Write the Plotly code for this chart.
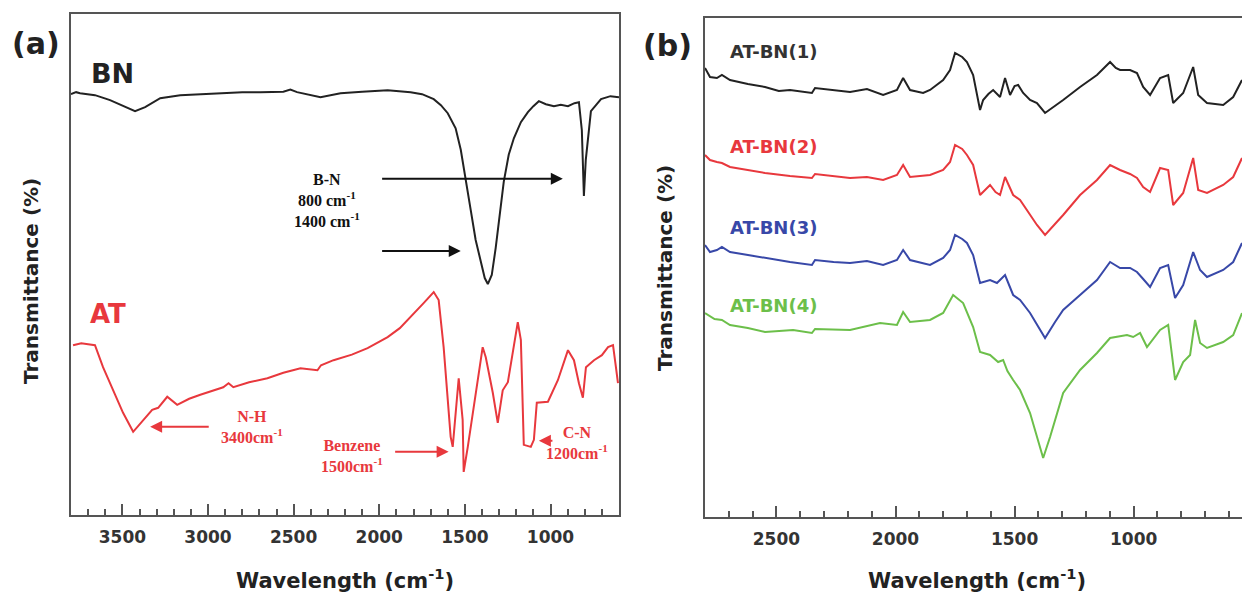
import plotly.graph_objects as go

W, H = 1242, 598

# ---------------- Panel (a) data ----------------
bn_wn = [3800, 3770, 3747, 3700, 3660, 3572, 3484, 3426, 3367, 3279, 3162, 3050, 2928, 2800, 2694,
         2560, 2519, 2480, 2343, 2226, 2100, 1951, 1817, 1750, 1682, 1640, 1600, 1554, 1524, 1495,
         1466, 1437, 1407, 1384, 1366, 1343, 1320, 1296, 1273, 1244, 1214, 1173, 1132, 1100, 1068,
         1027, 980, 940, 898, 860, 834, 817, 805, 794, 764, 705, 650, 600]
bn_t = [84.0, 84.4, 84.2, 84.0, 83.8, 82.8, 81.4, 80.6, 81.4, 83.2, 83.8, 84.0, 84.2, 84.4, 84.4,
        84.5, 84.9, 84.4, 83.4, 84.2, 84.5, 84.8, 84.4, 84.0, 83.0, 81.8, 80.2, 77.2, 72.9, 67.3,
        60.9, 54.9, 50.5, 47.3, 46.1, 47.9, 53.3, 59.9, 66.5, 71.9, 75.2, 78.4, 80.4, 81.6, 82.6,
        82.0, 81.6, 81.9, 81.6, 82.2, 82.4, 76.8, 63.7, 70.9, 80.6, 83.0, 83.6, 83.4]

at_wn = [3788, 3740, 3700, 3660, 3613, 3554, 3496, 3437, 3379, 3326, 3291, 3238, 3180, 3110, 3045,
         2980, 2911, 2880, 2852, 2760, 2653, 2560, 2460, 2361, 2340, 2267, 2160, 2068, 1951, 1880,
         1817, 1741, 1682, 1653, 1624, 1600, 1583, 1571, 1554, 1536, 1513, 1507, 1483, 1448, 1396,
         1378, 1337, 1308, 1279, 1249, 1214, 1191, 1173, 1162, 1156, 1115, 1097, 1080, 1015, 957,
         898, 863, 834, 811, 793, 746, 700, 664, 635, 618, 606]
at_t = [33.9, 34.3, 34.1, 33.9, 29.5, 24.9, 20.4, 16.6, 19.0, 21.0, 21.4, 23.6, 22.0, 23.2, 24.0,
        24.7, 25.5, 26.3, 25.5, 26.5, 27.3, 28.4, 29.3, 28.9, 29.9, 30.9, 32.0, 33.3, 35.5, 37.3,
        39.5, 42.3, 44.5, 42.9, 33.5, 23.6, 15.6, 13.6, 20.4, 27.3, 19.0, 8.6, 13.6, 21.6, 33.5,
        31.5, 24.4, 18.4, 24.9, 26.5, 33.5, 38.5, 34.9, 20.4, 14.0, 13.6, 15.0, 22.4, 22.6, 26.9,
        32.9, 30.9, 26.3, 23.4, 29.5, 30.9, 31.9, 33.5, 33.9, 29.5, 26.3]

# ---------------- Panel (b) data ----------------
b1_wn = [2800, 2779, 2750, 2729, 2695, 2620, 2548, 2490, 2443, 2351, 2338, 2260, 2191, 2120, 2052,
         1994, 1968, 1939, 1884, 1855, 1800, 1771, 1750, 1720, 1700, 1674, 1645, 1632, 1610, 1590,
         1561, 1540, 1519, 1500, 1485, 1464, 1435, 1406, 1372, 1296, 1225, 1154, 1099, 1075, 1057,
         1015, 986, 960, 931, 889, 855, 834, 792, 750, 729, 692, 624, 582, 545]
b1_t = [89.8, 88.0, 87.8, 88.4, 87.4, 86.6, 86.0, 85.2, 85.4, 84.8, 85.8, 85.4, 85.0, 85.6, 84.4,
        85.4, 87.8, 85.4, 84.8, 85.4, 87.4, 89.4, 92.8, 92.0, 91.0, 88.4, 81.4, 83.4, 84.6, 85.4,
        84.0, 87.8, 84.4, 86.2, 86.4, 84.8, 83.4, 82.8, 80.8, 83.4, 86.0, 88.4, 91.0, 89.8, 89.4,
        89.4, 88.8, 86.0, 84.4, 87.8, 88.4, 82.8, 84.8, 90.0, 84.4, 82.8, 82.4, 84.0, 87.4]

b2_wn = [2800, 2779, 2750, 2729, 2695, 2620, 2548, 2443, 2351, 2338, 2260, 2191, 2120, 2052,
         1994, 1968, 1939, 1855, 1800, 1771, 1750, 1720, 1700, 1674, 1645, 1603, 1580, 1561, 1540,
         1506, 1477, 1435, 1406, 1372, 1296, 1225, 1154, 1099, 1057, 1015, 986, 960, 931, 889,
         855, 834, 792, 750, 729, 692, 624, 582, 545]
b2_t = [72.4, 71.4, 71.0, 70.8, 70.0, 69.4, 68.8, 68.2, 67.8, 68.6, 68.2, 67.8, 68.0, 67.4,
        68.4, 70.4, 68.0, 68.4, 69.4, 71.0, 74.4, 73.6, 72.4, 70.4, 64.4, 66.4, 65.0, 64.4, 68.0,
        64.4, 63.4, 60.4, 58.4, 56.4, 60.4, 64.4, 67.4, 70.4, 69.4, 68.6, 67.8, 66.0, 65.0, 69.8,
        69.4, 62.4, 64.8, 71.8, 65.4, 64.8, 66.4, 68.0, 71.8]

b3_wn = [2800, 2779, 2750, 2729, 2695, 2620, 2548, 2443, 2351, 2338, 2260, 2191, 2120, 2052,
         1994, 1968, 1939, 1855, 1800, 1771, 1750, 1720, 1700, 1674, 1645, 1603, 1574, 1540, 1506,
         1477, 1435, 1406, 1372, 1330, 1296, 1225, 1154, 1099, 1057, 1015, 986, 960, 931, 889,
         855, 826, 792, 750, 721, 692, 624, 582, 545]
b3_t = [54.4, 53.0, 53.4, 54.0, 53.0, 52.4, 51.8, 51.0, 50.4, 51.4, 51.0, 50.8, 51.2, 50.4,
        51.4, 53.4, 51.4, 50.4, 51.8, 53.4, 56.4, 55.6, 54.8, 52.4, 46.8, 47.4, 46.8, 48.4, 44.4,
        43.4, 40.8, 38.4, 35.8, 39.0, 41.4, 44.4, 47.4, 51.0, 49.8, 49.8, 49.0, 47.6, 46.0, 49.8,
        50.4, 43.8, 46.4, 53.0, 49.4, 48.0, 49.4, 51.0, 54.8]

b4_wn = [2800, 2760, 2729, 2695, 2620, 2548, 2430, 2351, 2338, 2191, 2065, 1994, 1968, 1939,
         1855, 1800, 1758, 1716, 1674, 1645, 1603, 1569, 1548, 1530, 1506, 1477, 1435, 1406, 1380,
         1351, 1296, 1225, 1154, 1099, 1028, 1002, 973, 944, 889, 855, 826, 792, 763, 742, 721,
         692, 624, 582, 545]
b4_t = [40.8, 39.6, 39.4, 38.4, 37.8, 37.0, 37.4, 36.8, 37.6, 37.4, 38.8, 38.4, 41.0, 39.0,
        39.4, 40.8, 44.4, 42.8, 38.0, 33.0, 32.4, 31.0, 31.4, 29.2, 27.4, 25.4, 20.8, 16.0, 11.8,
        16.0, 24.8, 29.4, 32.8, 35.8, 36.4, 36.0, 36.8, 34.0, 37.4, 38.4, 27.4, 31.0, 32.4, 39.4,
        34.8, 33.8, 35.0, 36.4, 40.8]

major_ticks_a = [3500, 3000, 2500, 2000, 1500, 1000]
major_ticks_b = [2500, 2000, 1500, 1000]

BLACK = "#222222"
RED = "#e8383d"
BLUE = "#3848a8"
GREEN = "#6cbf4a"
AXIS = "#555555"
SANS = "DejaVu Sans"
SERIF = "Liberation Serif"

fig = go.Figure()
fig.add_trace(go.Scatter(x=bn_wn, y=bn_t, mode="lines", line=dict(color=BLACK, width=2),
                         xaxis="x", yaxis="y", showlegend=False))
fig.add_trace(go.Scatter(x=at_wn, y=at_t, mode="lines", line=dict(color=RED, width=2),
                         xaxis="x", yaxis="y", showlegend=False))
for wn, t, c in [(b1_wn, b1_t, BLACK), (b2_wn, b2_t, RED), (b3_wn, b3_t, BLUE), (b4_wn, b4_t, GREEN)]:
    fig.add_trace(go.Scatter(x=wn, y=t, mode="lines", line=dict(color=c, width=2),
                             xaxis="x2", yaxis="y2", showlegend=False))


def px(xp):
    return xp / W


def py(yp):
    return 1 - yp / H


xcommon = dict(showline=True, linecolor=AXIS, linewidth=2, ticks="inside", ticklen=11,
               tickwidth=2, tickcolor=AXIS, showgrid=False, zeroline=False,
               tickfont=dict(family=SANS, size=17, color="#333333", weight="bold"),
               ticklabelstandoff=6,
               minor=dict(dtick=100, ticks="inside", ticklen=6, tickwidth=1.5, tickcolor=AXIS))

fig.update_layout(
    width=W, height=H, margin=dict(l=0, r=0, t=0, b=0),
    paper_bgcolor="white", plot_bgcolor="white",
    xaxis=dict(domain=[px(71), px(619)], range=[3800, 600], tickvals=major_ticks_a,
               mirror=True, anchor="y", **xcommon),
    yaxis=dict(domain=[py(515), py(14)], range=[0, 100], showline=True, linecolor=AXIS,
               linewidth=2, mirror=True, showticklabels=False, ticks="", showgrid=False,
               zeroline=False, anchor="x"),
    xaxis2=dict(domain=[px(705), 1.0], range=[2800, 545], tickvals=major_ticks_b,
                mirror=True, anchor="y2", **xcommon),
    yaxis2=dict(domain=[py(517), py(18)], range=[0, 99.8], showline=True, linecolor=AXIS,
                linewidth=2, mirror=False, showticklabels=False, ticks="", showgrid=False,
                zeroline=False, anchor="x2"),
)

ann = []


def text(xp, yp, s, size, color="#222222", family=SANS, bold=True, angle=0):
    ann.append(dict(x=px(xp), y=py(yp), xref="paper", yref="paper", text=s, showarrow=False,
                    xanchor="center", yanchor="middle", textangle=angle,
                    font=dict(family=family, size=size, color=color,
                              weight="bold" if bold else "normal")))


# panel labels
text(36, 44, "(a)", 30)
text(668, 45, "(b)", 30)
text(112, 73, "BN", 27)
text(108, 314, "AT", 26, color=RED)

# axis titles
text(345, 579, "Wavelength (cm<sup>-1</sup>)", 21)
text(977, 579, "Wavelength (cm<sup>-1</sup>)", 21)
text(31, 281, "Transmittance (%)", 20, angle=-90)
text(665, 268, "Transmittance (%)", 20, angle=-90)

# AT-BN labels
text(773, 52, "AT-BN(1)", 18, color="#333333")
text(773, 147, "AT-BN(2)", 18, color=RED)
text(773, 227, "AT-BN(3)", 18, color=BLUE)
text(773, 305, "AT-BN(4)", 18, color=GREEN)

# serif annotation texts
text(327, 200, "B-N<br>800 cm<sup>-1</sup><br>1400 cm<sup>-1</sup>", 16, color="#111111", family=SERIF)
text(252, 427, "N-H<br>3400cm<sup>-1</sup>", 16, color=RED, family=SERIF)
text(352, 456, "Benzene<br>1500cm<sup>-1</sup>", 16, color=RED, family=SERIF)
text(577, 443, "C-N<br>1200cm<sup>-1</sup>", 16, color=RED, family=SERIF)

# arrows (data coordinates)
arrows = [
    (928, 67.1, 1992, 67.1, "#111111"),
    (1524, 52.7, 1992, 52.7, "#111111"),
    (3338, 17.6, 2987, 17.6, RED),
    (1595, 12.6, 1916, 12.6, RED),
    (1068, 14.8, 980, 14.8, RED),
]
for x0, y0, x1, y1, c in arrows:
    ann.append(dict(x=x0, y=y0, ax=x1, ay=y1, xref="x", yref="y", axref="x", ayref="y",
                    showarrow=True, arrowhead=2, arrowsize=1.2, arrowwidth=2, arrowcolor=c, text=""))

fig.update_layout(annotations=ann)
fig.write_html("out.html", config={"displayModeBar": False},
               post_script="document.body.style.margin='0';")
